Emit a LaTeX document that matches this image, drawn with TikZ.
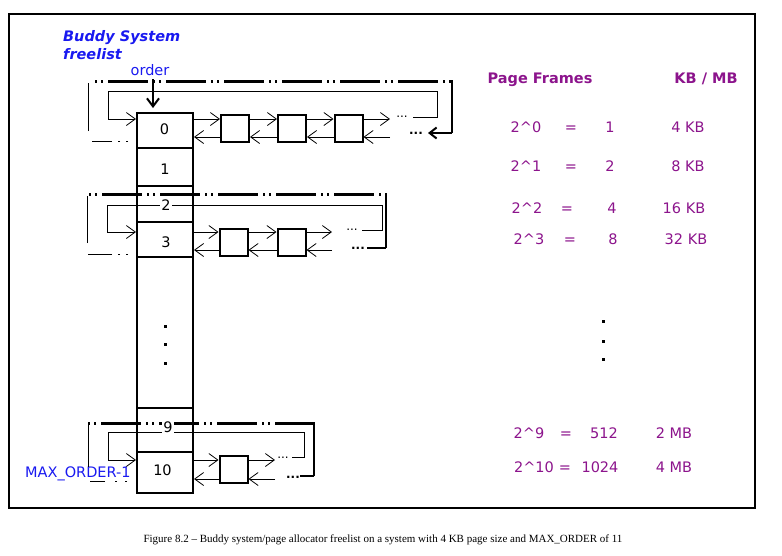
\documentclass[tikz,border=0pt]{standalone}
\usepackage{fontspec}
\setmainfont{DejaVu Sans}
\newfontfamily\capfont{Liberation Serif}
\usetikzlibrary{arrows.meta}
\definecolor{pur}{RGB}{140,20,140}
\definecolor{blu}{RGB}{25,25,240}
\begin{document}
\begin{tikzpicture}[x=1pt,y=-1pt,
  txt/.style={font=\fontsize{14.5}{17}\selectfont, inner sep=0pt},
  cell/.style={draw, line width=2pt, minimum width=56pt, inner sep=0pt},
  sbox/.style={draw, line width=2pt, minimum width=28pt, minimum height=27pt, inner sep=0pt},
  link/.style={line width=0.8pt, -{Straight Barb[length=9pt,width=13pt,line width=0.8pt]}},
  thinv/.style={line width=0.8pt},
  ddash/.style={line width=3pt, dash pattern=on 2pt off 4pt on 2pt off 5pt on 40pt off 5pt},
  rside/.style={line width=1.5pt},
  heavy/.style={line width=2.5pt},
  ptxt/.style={txt, text=pur, anchor=base},
  dotsu/.style={font=\fontsize{12}{14}\selectfont, inner sep=0pt, anchor=base},
  dotsl/.style={font=\fontsize{12}{14}\selectfont\bfseries, inner sep=0pt, anchor=base},
  cdot/.style={fill=black}
]
\useasboundingbox (0,0) rectangle (782,555);
\draw[line width=1.5pt] (9,14) rectangle (755,508);

% titles
\node[txt, font=\fontsize{14.5}{17}\selectfont\bfseries\itshape, text=blu, anchor=base west] (t1) at (63,41) {Buddy System};
\node[txt, font=\fontsize{14.5}{17}\selectfont\bfseries\itshape, text=blu, anchor=base west] (t2) at (63,59) {freelist};
\node[txt, text=blu, anchor=base] (ord) at (150,75) {order};
\node[txt, text=blu, anchor=base west] (mx) at (25,477) {MAX\_ORDER-1};

% column cells
\node[cell, minimum height=35pt] (c0) at (165,130.5) {};
\node[cell, minimum height=38pt] (c1) at (165,167) {};
\node[cell, minimum height=36pt] (c2) at (165,204) {};
\node[cell, minimum height=35pt] (c3) at (165,239.5) {};
\node[cell, minimum height=151pt] (cb) at (165,332.5) {};
\node[cell, minimum height=44pt] (c9) at (165,430) {};
\node[cell, minimum height=41pt] (c10) at (165,472.5) {};

% small boxes
\node[sbox] (b01) at (235,128.5) {};
\node[sbox] (b02) at (292,128.5) {};
\node[sbox] (b03) at (348.5,128.5) {};
\node[sbox] (b31) at (233.5,242) {};
\node[sbox] (b32) at (291.5,242) {};
\node[sbox] (b101) at (233.5,469) {};

% row coordinates
\coordinate (r0f) at (0,119);  \coordinate (r0b) at (0,137);  \coordinate (d0) at (0,141);
\coordinate (r3f) at (0,232);  \coordinate (r3b) at (0,250);  \coordinate (d3) at (0,254);
\coordinate (r10f) at (0,460); \coordinate (r10b) at (0,479); \coordinate (d10) at (0,481);
\coordinate (e0f) at (390,119); \coordinate (e0b) at (390,137);
\coordinate (e3f) at (332,232); \coordinate (e3b) at (332,250);
\coordinate (e10f) at (275,460); \coordinate (e10b) at (275,479);
\coordinate (os) at (153,79);
\coordinate (oe) at (153,108);

% order arrow
\draw[line width=2pt, -{Straight Barb[length=8pt,width=12pt,line width=2pt]}] (os) -- (oe);

% ---- row 0
\draw[link] (c0.east|-r0f) -- (b01.west|-r0f);
\draw[link] (b01.east|-r0f) -- (b02.west|-r0f);
\draw[link] (b02.east|-r0f) -- (b03.west|-r0f);
\draw[link] (b03.east|-r0f) -- (e0f);
\draw[link] (b01.west|-r0b) -- (c0.east|-r0b);
\draw[link] (b02.west|-r0b) -- (b01.east|-r0b);
\draw[link] (b03.west|-r0b) -- (b02.east|-r0b);
\draw[link] (e0b) -- (b03.east|-r0b);
\coordinate (L0) at (413,117);
\draw[link] (L0) -- (437,117) -- (437,91) -- (108,91) -- (108,119) -- (c0.west|-r0f);
\node[dotsu] (u0) at (402,117) {...};
\node[dotsl] (w0) at (416,134.5) {...};
\draw[thinv, dash pattern=on 0pt off 8pt on 2pt off 6pt on 2pt off 6pt on 21pt off 100pt] (c0.west|-d0) -- (92,141);
\draw[thinv] (88,131) -- (88,83);
\draw[ddash] (95,81) -- (455,81);
\draw[rside] (452,80) -- (452,133);
\draw[heavy, -{Straight Barb[length=7pt,width=11pt,line width=2pt]}] (452,133) -- (428,133);

% ---- row 3
\draw[link] (c3.east|-r3f) -- (b31.west|-r3f);
\draw[link] (b31.east|-r3f) -- (b32.west|-r3f);
\draw[link] (b32.east|-r3f) -- (e3f);
\draw[link] (b31.west|-r3b) -- (c3.east|-r3b);
\draw[link] (b32.west|-r3b) -- (b31.east|-r3b);
\draw[link] (e3b) -- (b32.east|-r3b);
\coordinate (L3) at (362,230);
\draw[link] (L3) -- (382,230) -- (382,205) -- (107,205) -- (107,232) -- (c3.west|-r3f);
\node[dotsu] (u3) at (352,230.5) {...};
\node[dotsl] (w3) at (358,249.5) {...};
\draw[thinv, dash pattern=on 0pt off 8pt on 2pt off 6pt on 2pt off 6pt on 25pt off 100pt] (c3.west|-d3) -- (88,254);
\draw[thinv] (87,243) -- (87,196);
\draw[ddash] (89,194) -- (387,194);
\draw[rside] (386,193) -- (386,248);
\draw[heavy] (386,248) -- (367,248);

% ---- row 10
\draw[link] (c10.east|-r10f) -- (b101.west|-r10f);
\draw[link] (b101.east|-r10f) -- (e10f);
\draw[link] (b101.west|-r10b) -- (c10.east|-r10b);
\draw[link] (e10b) -- (b101.east|-r10b);
\coordinate (L10) at (292,457);
\draw[link] (L10) -- (304,457) -- (304,432) -- (108,432) -- (108,460) -- (c10.west|-r10f);
\node[dotsu] (u10) at (283,458) {...};
\node[dotsl] (w10) at (293,478.5) {...};
\draw[thinv, dash pattern=on 0pt off 9pt on 2pt off 8pt on 2pt off 10pt on 15pt off 100pt] (c10.west|-d10) -- (90,481);
\draw[thinv] (88,467) -- (88,425);
\draw[ddash] (88,423) -- (315,423);
\draw[line width=2pt] (314,422) -- (314,476);
\draw[heavy] (314,476) -- (300,476);

% cell labels
\node[txt] (l0) at (164.5,129) {0};
\node[txt] (l1) at (165,169.5) {1};
\node[txt, fill=white, inner sep=1pt] (l2) at (166,205) {2};
\node[txt] (l3) at (166,242) {3};
\node[txt, fill=white, inner sep=1pt] (l9) at (168,427) {9};
\node[txt] (l10) at (162.5,470.5) {10};
\fill[cdot] (163.5,324.5) rectangle +(3,3);
\fill[cdot] (163.5,342.5) rectangle +(3,3);
\fill[cdot] (163.5,361.5) rectangle +(3,3);

% right table
\node[ptxt, font=\fontsize{14.5}{17}\selectfont\bfseries] (h1) at (540,83) {Page Frames};
\node[ptxt, font=\fontsize{14.5}{17}\selectfont\bfseries] (h2) at (706,83) {KB / MB};

\node[ptxt] (a0) at (526,132) {2\textasciicircum 0};
\node[ptxt] (q0) at (571,132) {=};
\node[ptxt] (n0) at (610,132) {1};
\node[ptxt] (s0) at (688,132) {4 KB};

\node[ptxt] (a1) at (526,171) {2\textasciicircum 1};
\node[ptxt] (q1) at (571,171) {=};
\node[ptxt] (n1) at (610,171) {2};
\node[ptxt] (s1) at (688,171) {8 KB};

\node[ptxt] (a2) at (527,213) {2\textasciicircum 2};
\node[ptxt] (q2) at (567,213) {=};
\node[ptxt] (n2) at (612,213) {4};
\node[ptxt] (s2) at (684,213) {16 KB};

\node[ptxt] (a3) at (529,244) {2\textasciicircum 3};
\node[ptxt] (q3) at (570,244) {=};
\node[ptxt] (n3) at (613,244) {8};
\node[ptxt] (s3) at (686,244) {32 KB};

\node[ptxt] (a9) at (529,438) {2\textasciicircum 9};
\node[ptxt] (q9) at (566,438) {=};
\node[ptxt] (n9) at (604,438) {512};
\node[ptxt] (s9) at (674,438) {2 MB};

\node[ptxt] (a10) at (534,472) {2\textasciicircum 10};
\node[ptxt] (q10) at (565,472) {=};
\node[ptxt] (n10) at (600,472) {1024};
\node[ptxt] (s10) at (674,472) {4 MB};

\fill[black] (601.5,319.5) rectangle +(3,3);
\fill[black] (601.5,339.5) rectangle +(3,3);
\fill[black] (601.5,357.5) rectangle +(3,3);

% caption
\node[font=\capfont\fontsize{11}{13}\selectfont, inner sep=0pt] (cap) at (383,540) {Figure 8.2 – Buddy system/page allocator freelist on a system with 4 KB page size and MAX\_ORDER of 11};
\end{tikzpicture}
\end{document}
